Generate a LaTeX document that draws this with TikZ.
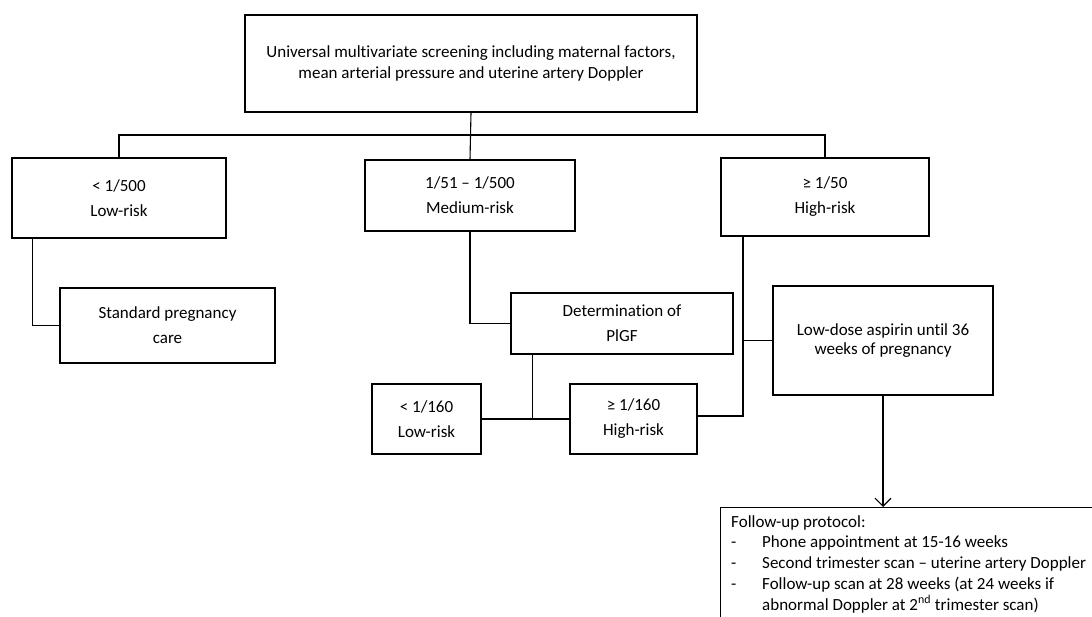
\documentclass[tikz,border=0pt]{standalone}
\usepackage{fontspec}
\setmainfont{Carlito}[Ligatures=CommonOff]
\usetikzlibrary{arrows.meta}
\begin{document}
\begin{tikzpicture}[x=1pt,y=-1pt,
  box/.style={draw, line width=1.3pt, inner sep=0pt, align=center, font=\fontsize{17}{25}\selectfont},
  link/.style={line width=1.1pt},
]
\useasboundingbox (0,0) rectangle (1092,617);
\clip (0,0) rectangle (1092,617);
% boxes
\node[box, minimum width=452pt, minimum height=97pt, font=\fontsize{17}{21}\selectfont] (top) at (471,63.5)
  {Universal multivariate screening including maternal factors,\\mean arterial pressure and uterine artery Doppler};
\node[box, minimum width=214pt, minimum height=80pt] (low) at (119,198) {\raisebox{-4pt}{< 1/500}\\\raisebox{-4pt}{Low-risk}};
\node[box, minimum width=210pt, minimum height=71pt] (med) at (470,195.5) {1/51 – 1/500\\Medium-risk};
\node[box, minimum width=208pt, minimum height=78pt] (high) at (825,197) {≥ 1/50\\High-risk};
\node[box, minimum width=215pt, minimum height=75pt] (std) at (167.5,325.5) {Standard pregnancy\\care};
\node[box, minimum width=222pt, minimum height=61pt] (plgf) at (622,323.5) {Determination of\\PlGF};
\node[box, minimum width=109pt, minimum height=70pt] (low2) at (426.5,419) {< 1/160\\Low-risk};
\node[box, minimum width=127pt, minimum height=70pt] (high2) at (633.5,419) {≥ 1/160\\High-risk};
\node[box, minimum width=220pt, minimum height=109pt, font=\fontsize{17}{19.5}\selectfont] (asp) at (883,340.5)
  {Low-dose aspirin until 36\\weeks of pregnancy};
\node[draw, line width=1.3pt, anchor=north west, inner sep=0pt, minimum width=400pt, minimum height=130pt] (follow) at (720,507) {};
\node[anchor=north west, align=left, inner sep=0pt, font=\fontsize{17}{20.8}\selectfont] (followtxt) at (731,515)
  {Follow-up protocol:\\
   \makebox[31pt][l]{-}Phone appointment at 15-16 weeks\\
   \makebox[31pt][l]{-}Second trimester scan – uterine artery Doppler\\
   \makebox[31pt][l]{-}Follow-up scan at 28 weeks (at 24 weeks if\\
   \hspace*{31pt}abnormal Doppler at 2\textsuperscript{nd} trimester scan)};
% connectors
\coordinate (bus) at (0,135);
\coordinate (rbus) at (743,0);
\draw[link] (top.south) -- (med.north);
\draw[link] (low.north) -- (low.north |- bus) -- (high.north |- bus) -- (high.north);
\draw[link] ([xshift=21pt]low.south west) |- (std.west);
\draw[link] (med.south) |- (plgf.west);
\draw[link] ([xshift=22pt]plgf.south west) -- ([xshift=22pt]plgf.south west |- low2.east);
\draw[link] (low2.east) -- (high2.west);
\draw[link] ([yshift=3pt]high2.east) -| (high.south -| rbus);
\draw[link] (asp.west) -- (asp.west -| rbus);
\draw[link, -{Straight Barb[length=8pt,width=16pt]}] (asp.south) -- (asp.south |- follow.north);
\end{tikzpicture}
\end{document}
